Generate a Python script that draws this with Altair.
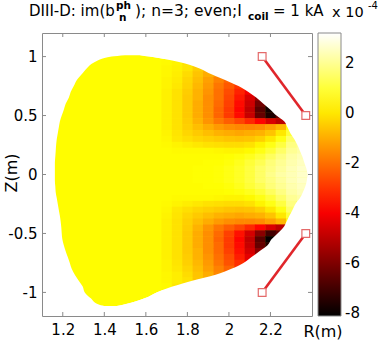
import altair as alt
import pandas as pd

# ---------------- data ----------------
# plasma boundary: for each height Z, inner and outer major radius (m)
BOUND_Z = [1.012, 1.00, 0.95, 0.90, 0.85, 0.80, 0.75, 0.70, 0.65, 0.60, 0.55, 0.50, 0.45,
           0.40, 0.35, 0.30, 0.25, 0.20, 0.15, 0.10, 0.05, 0.00, -0.05, -0.10, -0.15,
           -0.20, -0.25, -0.30, -0.35, -0.40, -0.45, -0.50, -0.55, -0.60, -0.65, -0.70,
           -0.75, -0.80, -0.85, -0.90, -0.95, -1.00, -1.05, -1.10, -1.115]
BOUND_RIN = [1.50, 1.435, 1.350, 1.315, 1.291, 1.267, 1.253, 1.238, 1.229, 1.214, 1.205,
             1.195, 1.186, 1.181, 1.176, 1.171, 1.168, 1.166, 1.164, 1.162, 1.162, 1.162,
             1.162, 1.164, 1.166, 1.171, 1.176, 1.181, 1.186, 1.190, 1.193, 1.195, 1.198,
             1.205, 1.214, 1.224, 1.234, 1.243, 1.258, 1.277, 1.296, 1.306, 1.335, 1.370,
             1.400]
BOUND_ROUT = [1.57, 1.618, 1.770, 1.859, 1.916, 1.984, 2.046, 2.094, 2.133, 2.166, 2.200,
              2.229, 2.267, 2.282, 2.296, 2.315, 2.330, 2.342, 2.354, 2.363, 2.373, 2.378,
              2.375, 2.368, 2.356, 2.342, 2.320, 2.306, 2.291, 2.277, 2.262, 2.234, 2.205,
              2.186, 2.147, 2.109, 2.070, 2.012, 1.936, 1.823, 1.728, 1.652, 1.594, 1.500,
              1.460]
BASE_VALUE = 0.35   # uniform yellow level of the core (x 1e-4)

# field im(b_n^ph) (x 1e-4) on a 0.05 m grid in the outboard region
R_COLS = [1.70, 1.75, 1.80, 1.85, 1.90, 1.95, 2.00, 2.05, 2.10, 2.15, 2.20, 2.25, 2.30, 2.35]
FIELD_Z = [0.95, 0.90, 0.85, 0.80, 0.75, 0.70, 0.65, 0.60, 0.55, 0.50, 0.45, 0.40, 0.35,
           0.30, 0.25, 0.20, 0.15, 0.10, 0.05, 0.00, -0.05, -0.10, -0.15, -0.20, -0.25,
           -0.30, -0.35, -0.40, -0.45, -0.50, -0.55, -0.60, -0.65, -0.70, -0.75, -0.80,
           -0.85, -0.90, -0.95]
FIELD = [
    [0.3, 0.2, -0.1],
    [0.25, 0.15, -0.05, -0.45, -0.8],
    [0.25, 0.1, -0.2, -0.6, -1.0, -1.4],
    [0.2, 0.05, -0.3, -0.7, -1.2, -1.7, -2.2],
    [0.2, 0.0, -0.35, -0.8, -1.3, -1.9, -2.4, -3.0],
    [0.15, -0.1, -0.45, -0.9, -1.4, -2.0, -2.6, -3.3, -4.0],
    [0.15, -0.1, -0.5, -0.9, -1.5, -2.0, -2.7, -3.5, -4.5, -5.6],
    [0.15, -0.1, -0.5, -1.0, -1.5, -2.1, -2.8, -3.7, -4.7, -6.2, -7.5],
    [0.15, -0.1, -0.5, -1.0, -1.5, -2.2, -2.9, -3.8, -4.9, -6.6, -7.8],
    [0.15, -0.1, -0.5, -1.0, -1.5, -2.2, -2.9, -3.7, -4.8, -6.4, -7.6, -6.5],
    [0.15, -0.1, -0.45, -0.9, -1.4, -1.9, -2.3, -2.7, -3.2, -3.8, -4.5, -5.0],
    [0.15, -0.1, -0.4, -0.7, -1.0, -1.3, -1.5, -1.6, -1.6, -1.5, -1.2, -0.8, 0.5],
    [0.2, -0.05, -0.3, -0.5, -0.7, -0.9, -1.0, -1.1, -1.0, -0.9, -0.6, 0.0, 1.0],
    [0.25, 0.0, -0.15, -0.3, -0.4, -0.5, -0.6, -0.65, -0.6, -0.4, 0.0, 0.6, 1.5],
    [0.3, 0.2, 0.1, 0.0, -0.1, -0.15, -0.2, -0.2, -0.1, 0.2, 0.6, 1.1, 1.8, 2.1],
    [0.35, 0.3, 0.3, 0.3, 0.3, 0.25, 0.2, 0.2, 0.3, 0.6, 1.0, 1.5, 2.0, 2.2],
    [0.35, 0.35, 0.35, 0.35, 0.35, 0.35, 0.4, 0.5, 0.7, 1.0, 1.4, 1.8, 2.2, 2.4],
    [0.35, 0.35, 0.35, 0.35, 0.4, 0.4, 0.5, 0.7, 1.0, 1.3, 1.7, 2.0, 2.3, 2.5],
    [0.35, 0.35, 0.35, 0.4, 0.4, 0.45, 0.6, 0.8, 1.1, 1.5, 1.8, 2.1, 2.4, 2.6],
    [0.35, 0.35, 0.35, 0.4, 0.4, 0.45, 0.6, 0.8, 1.1, 1.5, 1.9, 2.2, 2.4, 2.6],
    [0.35, 0.35, 0.35, 0.4, 0.4, 0.45, 0.6, 0.8, 1.1, 1.5, 1.8, 2.1, 2.4, 2.6],
    [0.35, 0.35, 0.35, 0.35, 0.4, 0.4, 0.5, 0.7, 1.0, 1.3, 1.7, 2.0, 2.3, 2.5],
    [0.35, 0.35, 0.35, 0.35, 0.35, 0.35, 0.4, 0.5, 0.7, 1.0, 1.4, 1.8, 2.2, 2.4],
    [0.35, 0.3, 0.3, 0.3, 0.3, 0.25, 0.2, 0.2, 0.3, 0.6, 1.0, 1.5, 2.0, 2.2],
    [0.3, 0.2, 0.1, 0.0, -0.1, -0.15, -0.2, -0.2, -0.1, 0.2, 0.6, 1.1, 1.8],
    [0.25, 0.0, -0.15, -0.3, -0.4, -0.5, -0.6, -0.65, -0.6, -0.4, 0.0, 0.6, 1.5],
    [0.2, -0.05, -0.3, -0.5, -0.7, -0.9, -1.0, -1.1, -1.0, -0.9, -0.6, 0.0, 1.0],
    [0.15, -0.1, -0.4, -0.7, -1.0, -1.3, -1.5, -1.6, -1.6, -1.5, -1.2, -0.8, 0.5],
    [0.15, -0.1, -0.45, -0.9, -1.4, -1.9, -2.3, -2.7, -3.2, -3.8, -4.5, -5.0],
    [0.15, -0.1, -0.5, -1.0, -1.5, -2.1, -2.8, -3.6, -4.6, -5.8, -7.0, -6.5],
    [0.15, -0.1, -0.5, -1.0, -1.5, -2.2, -2.9, -3.8, -4.9, -6.6, -8.0],
    [0.15, -0.1, -0.5, -1.0, -1.5, -2.1, -2.9, -3.7, -4.8, -6.4, -7.5],
    [0.15, -0.1, -0.5, -0.9, -1.5, -2.1, -2.8, -3.6, -4.6, -5.8],
    [0.15, -0.1, -0.45, -0.9, -1.4, -2.0, -2.6, -3.4, -4.3, -5.5],
    [0.2, -0.05, -0.4, -0.8, -1.3, -1.9, -2.5, -3.1, -4.0],
    [0.2, 0.0, -0.3, -0.7, -1.2, -1.7, -2.2, -3.0],
    [0.25, 0.1, -0.2, -0.6, -1.0, -1.6],
    [0.25, 0.1, -0.1, -0.6],
    [0.3, 0.0],
]
CELL = 0.05

# coils (two straight segments)
COIL_ID = ["upper", "upper", "lower", "lower"]
COIL_R = [2.16, 2.37, 2.37, 2.16]
COIL_Z = [1.0, 0.5, -0.5, -1.0]

# ticks and labels
X_TICKS = [1.2, 1.4, 1.6, 1.8, 2.0, 2.2]
Y_TICKS = [-1, -0.5, 0, 0.5, 1]
CBAR_TICKS = [-8, -6, -4, -2, 0, 2]
X_DOMAIN = [1.1, 2.4]
Y_DOMAIN = [-1.2, 1.2]
COLOR_DOMAIN = [-8.1, 3.2]

# ---------------- tables ----------------
bound_df = pd.DataFrame({"Z": BOUND_Z, "Rin": BOUND_RIN, "Rout": BOUND_ROUT,
                         "v": [BASE_VALUE] * len(BOUND_Z),
                         "edge": [X_DOMAIN[1] - 0.004] * len(BOUND_Z)})

EPS = 0.002  # tiny overlap so adjacent cells show no seams
cells = []
for z, row in zip(FIELD_Z, FIELD):
    for r, v in zip(R_COLS, row):
        cells.append({"x0": r - CELL / 2, "x1": r + CELL / 2 + EPS,
                      "y0": z - CELL / 2 - EPS, "y1": z + CELL / 2 + EPS, "v": v})
cells_df = pd.DataFrame(cells)
coil_df = pd.DataFrame({"coil": COIL_ID, "R": COIL_R, "Z": COIL_Z})

W, H = 270, 283
FONT = "DejaVu Sans"
FRAME = "#8a8a8a"

# MATLAB "hot" colormap: black -> red -> yellow -> white
lo, hi = COLOR_DOMAIN
span = hi - lo
cs = alt.Scale(domain=[lo, lo + span * 3 / 8, lo + span * 6 / 8, hi],
               range=["#000000", "#ff0000", "#ffff00", "#ffffff"], interpolate="rgb")
xs = alt.Scale(domain=X_DOMAIN, nice=False, zero=False)
ys = alt.Scale(domain=Y_DOMAIN, nice=False, zero=False)

x_axis = alt.Axis(values=X_TICKS, labelExpr="'' + datum.value", ticks=False, tickSize=0,
                  domain=False, grid=False, labelFont=FONT, labelFontSize=15,
                  labelColor="black", labelPadding=6)
y_axis = alt.Axis(values=Y_TICKS, labelExpr="'' + datum.value", ticks=False, tickSize=0,
                  domain=False, grid=False, labelFont=FONT, labelFontSize=15,
                  labelColor="black", labelPadding=5)
legend = alt.Legend(type="gradient", orient="none", legendX=276, legendY=0,
                    direction="vertical", gradientLength=H, gradientThickness=23,
                    values=CBAR_TICKS, labelExpr="'' + datum.value", labelFont=FONT,
                    labelFontSize=15, labelColor="black", labelOffset=4,
                    gradientStrokeColor=FRAME, gradientStrokeWidth=1, padding=0,
                    labelOverlap=False)

base = alt.Chart(bound_df).mark_area(orient="horizontal", interpolate="monotone").encode(
    y=alt.Y("Z:Q", scale=ys, axis=y_axis, title=None),
    x=alt.X("Rin:Q", scale=xs, axis=x_axis, title=None),
    x2="Rout:Q",
    color=alt.Color("v:Q", scale=cs, legend=legend, title=None),
)

field = alt.Chart(cells_df).mark_rect().encode(
    x=alt.X("x0:Q", scale=xs),
    x2="x1:Q",
    y=alt.Y("y0:Q", scale=ys),
    y2="y1:Q",
    color=alt.Color("v:Q", scale=cs, legend=legend, title=None),
)

# white mask outside the outer boundary, so the grid is trimmed to the smooth edge
mask = alt.Chart(bound_df).mark_area(orient="horizontal", interpolate="monotone",
                                     color="white").encode(
    y=alt.Y("Z:Q", scale=ys),
    x=alt.X("Rout:Q", scale=xs),
    x2="edge:Q",
)

xt_df = pd.DataFrame({"t": X_TICKS})
yt_df = pd.DataFrame({"t": Y_TICKS})
tick_layers = [
    alt.Chart(xt_df).mark_rule(color=FRAME).encode(x=alt.X("t:Q", scale=xs), y=alt.value(H), y2=alt.value(H - 4)),
    alt.Chart(xt_df).mark_rule(color=FRAME).encode(x=alt.X("t:Q", scale=xs), y=alt.value(0), y2=alt.value(4)),
    alt.Chart(yt_df).mark_rule(color=FRAME).encode(y=alt.Y("t:Q", scale=ys), x=alt.value(0), x2=alt.value(4)),
    alt.Chart(yt_df).mark_rule(color=FRAME).encode(y=alt.Y("t:Q", scale=ys), x=alt.value(W), x2=alt.value(W - 4)),
]

coil_line = alt.Chart(coil_df).mark_line(color="#e0262b", strokeWidth=2.6).encode(
    x=alt.X("R:Q", scale=xs), y=alt.Y("Z:Q", scale=ys), detail="coil:N")
coil_pts = alt.Chart(coil_df).mark_point(shape="square", size=60, fill="white", fillOpacity=1,
                                         stroke="#e46a6a", strokeWidth=1.2, opacity=1).encode(
    x=alt.X("R:Q", scale=xs), y=alt.Y("Z:Q", scale=ys))

one = pd.DataFrame({"a": [0]})


def label(text, x, y, size=15, weight="normal", angle=0, align="left", baseline="alphabetic"):
    kw = dict(font=FONT, fontSize=size, fontWeight=weight, align=align, baseline=baseline,
              color="black")
    if angle:
        kw["angle"] = angle
    return alt.Chart(one).mark_text(**kw).encode(
        x=alt.value(x), y=alt.value(y), text=alt.value(text))


texts = [
    label("DIII-D: im(b", -13, -17, size=15),
    label("ph", 74, -24, size=10.5, weight="bold"),
    label("n", 77, -12, size=10.5, weight="bold"),
    label("); n=3; even;I", 93, -17, size=15.5),
    label("coil", 206, -13, size=10.5, weight="bold"),
    label("= 1 kA", 231, -17),
    label("x 10", 290, -16, size=14.5),
    label("-4", 326, -24, size=10),
    label("R(m)", 281, 304, size=16, align="center"),
    label("Z(m)", -30, 140, size=16, angle=270, align="center", baseline="middle"),
]

chart = alt.layer(base, field, mask, *tick_layers, coil_line, coil_pts, *texts).properties(
    width=W, height=H,
    autosize=alt.AutoSizeParams(type="none"),
    padding={"left": 42, "top": 33, "right": 76, "bottom": 29},
    background="white",
).configure_view(stroke=FRAME, strokeWidth=1)

chart.save("out.html", embed_options={"renderer": "svg", "actions": False})
